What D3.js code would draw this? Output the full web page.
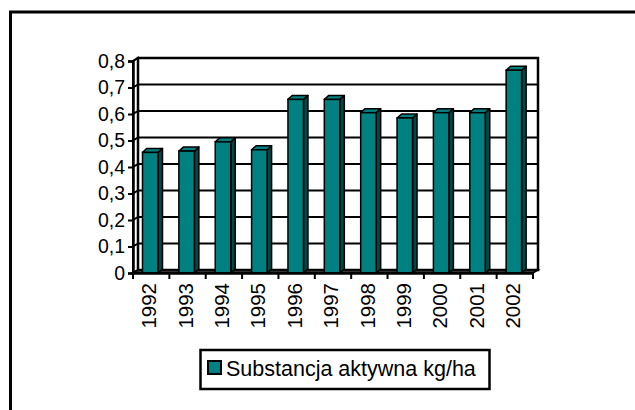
<!DOCTYPE html>
<html>
<head>
<meta charset="utf-8">
<script src="https://cdn.jsdelivr.net/npm/d3@7"></script>
<style>
  body { margin: 0; background: #fff; }
  svg { display: block; font-family: "Liberation Sans", Arial, sans-serif; }
</style>
</head>
<body>
<svg id="chart" width="635" height="410"></svg>
<script>
// data
const years = ["1992", "1993", "1994", "1995", "1996", "1997", "1998", "1999", "2000", "2001", "2002"];
const values = [0.455, 0.46, 0.495, 0.465, 0.655, 0.655, 0.605, 0.585, 0.605, 0.605, 0.765];
const yTicks = [0, 0.1, 0.2, 0.3, 0.4, 0.5, 0.6, 0.7, 0.8];
const seriesName = "Substancja aktywna kg/ha";

const svg = d3.select("#chart");
const teal = "#008080", tealSide = "#004848";
const fontFam = "Liberation Sans, Arial, sans-serif";

// outer frame (runs off the right and bottom edge)
svg.append("path")
    .attr("d", "M10.5,430 L10.5,12 L650,12")
    .attr("fill", "none")
    .attr("stroke", "#000")
    .attr("stroke-width", 3);

const x = d3.scaleBand().domain(years).range([133, 533]);
const y = d3.scaleLinear().domain([0, 0.8]).range([273, 61]);
const dx = 5, dy = -3; // wall depth

const g = svg.append("g");

// side wall + back wall
g.append("path")
    .attr("d", `M${x.range()[0]},${y(0)} L${x.range()[0]},${y(0.8)} L${x.range()[0] + dx},${y(0.8) + dy} L${x.range()[0] + dx},${y(0) + dy} Z`)
    .attr("fill", "#fff").attr("stroke", "#000").attr("stroke-width", 2);
g.append("rect")
    .attr("x", x.range()[0] + dx).attr("y", y(0.8) + dy)
    .attr("width", x.range()[1] - x.range()[0]).attr("height", y(0) - y(0.8))
    .attr("fill", "#fff").attr("stroke", "#000").attr("stroke-width", 2.5);

// gridlines on side and back wall
yTicks.forEach(t => {
    g.append("path")
        .attr("d", `M${x.range()[0]},${y(t)} L${x.range()[0] + dx},${y(t) + dy} L${x.range()[1] + dx},${y(t) + dy}`)
        .attr("fill", "none").attr("stroke", "#000").attr("stroke-width", 2);
});

// floor
g.append("path")
    .attr("d", `M${x.range()[0]},${y(0)} L${x.range()[1]},${y(0)} L${x.range()[1] + dx},${y(0) + dy} L${x.range()[0] + dx},${y(0) + dy} Z`)
    .attr("fill", "#333").attr("stroke", "#000").attr("stroke-width", 1.5);

// bars
const bw = 15.5, bdx = 4.5, bdy = -4, boff = 9.5;
const bars = g.selectAll("g.bar").data(years.map((yr, i) => ({ yr, v: values[i] })))
    .join("g").attr("class", "bar");

bars.append("path") // side face
    .attr("d", d => {
        const x0 = x(d.yr) + boff + bw;
        return `M${x0},${y(0)} L${x0},${y(d.v)} L${x0 + bdx},${y(d.v) + bdy} L${x0 + bdx},${y(0) + bdy} Z`;
    })
    .attr("fill", tealSide).attr("stroke", "#000").attr("stroke-width", 1.5).attr("stroke-linejoin", "round");
bars.append("path") // top face
    .attr("d", d => {
        const x0 = x(d.yr) + boff;
        return `M${x0},${y(d.v)} L${x0 + bdx},${y(d.v) + bdy} L${x0 + bw + bdx},${y(d.v) + bdy} L${x0 + bw},${y(d.v)} Z`;
    })
    .attr("fill", teal).attr("stroke", "#000").attr("stroke-width", 1.5).attr("stroke-linejoin", "round");
bars.append("rect") // front face
    .attr("x", d => x(d.yr) + boff)
    .attr("y", d => y(d.v))
    .attr("width", bw)
    .attr("height", d => y(0) - y(d.v))
    .attr("fill", teal).attr("stroke", "#000").attr("stroke-width", 1.5);

// y axis
const yAxis = g.append("g")
    .attr("transform", `translate(${x.range()[0]},0)`)
    .attr("font-family", fontFam)
    .call(d3.axisLeft(y).tickValues(yTicks).tickSize(5).tickPadding(3)
        .tickFormat(d => d === 0 ? "0" : d3.format(".1f")(d).replace(".", ",")));
yAxis.attr("font-family", fontFam);
yAxis.select(".domain").attr("stroke-width", 2.5);
yAxis.selectAll(".tick line").attr("stroke-width", 2);
yAxis.selectAll(".tick text").attr("font-size", 19.5).attr("fill", "#000");

// x axis
const xAxis = g.append("g")
    .attr("transform", `translate(0,${y(0)})`)
    .call(d3.axisBottom(x).tickSize(0).tickFormat(""));
xAxis.attr("font-family", fontFam);
xAxis.select(".domain").attr("stroke-width", 2.5);
xAxis.selectAll(".tick").remove();
// tick marks at category boundaries
const bounds = years.map(yr => x(yr)).concat([x.range()[1]]);
xAxis.selectAll("line.bnd").data(bounds).join("line")
    .attr("class", "bnd")
    .attr("x1", d => d).attr("x2", d => d)
    .attr("y1", 0).attr("y2", 6)
    .attr("stroke", "#000").attr("stroke-width", 2);
xAxis.selectAll("text.lbl").data(years).join("text")
    .attr("class", "lbl")
    .attr("transform", d => `translate(${x(d) + x.bandwidth() / 2 - 2},10) rotate(-90)`)
    .attr("text-anchor", "end")
    .attr("dy", "0.35em")
    .attr("font-size", 20.5)
    .attr("fill", "#000")
    .text(d => d);

// legend
const lg = svg.append("g").attr("font-family", fontFam);
lg.append("rect")
    .attr("x", 200.5).attr("y", 350).attr("width", 289).attr("height", 39)
    .attr("fill", "#fff").attr("stroke", "#000").attr("stroke-width", 2.5);
lg.append("rect")
    .attr("x", 208).attr("y", 361).attr("width", 13).attr("height", 13)
    .attr("fill", teal).attr("stroke", "#000").attr("stroke-width", 2);
lg.append("text")
    .attr("x", 226).attr("y", 376)
    .attr("font-size", 21.5)
    .attr("fill", "#000")
    .text(seriesName);
</script>
</body>
</html>
